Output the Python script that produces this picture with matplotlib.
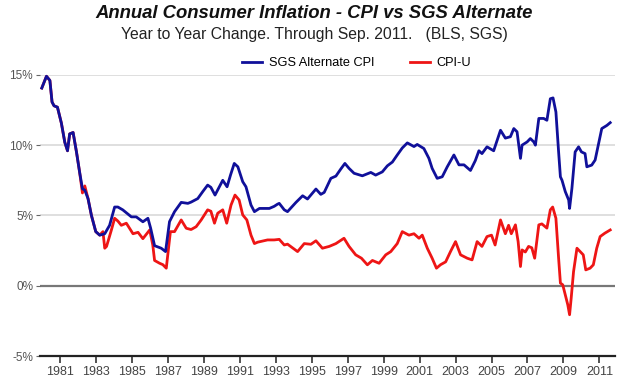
import matplotlib as mpl
mpl.use('Agg')
from matplotlib import pyplot as plt

plt.rcParams['font.family'] = ['Liberation Sans', 'DejaVu Sans']

# SGS alternate CPI, yearly change (%)
sgs_year = [1980.00, 1980.26, 1980.45, 1980.57, 1980.68, 1980.87, 1981.09, 1981.28, 1981.43, 1981.55,
            1981.74, 1981.93, 1982.10, 1982.26, 1982.39, 1982.57, 1982.76, 1983.00, 1983.22, 1983.50,
            1983.77, 1984.05, 1984.23, 1984.50, 1984.98, 1985.25, 1985.62, 1985.90, 1986.05, 1986.27,
            1986.64, 1986.88, 1987.10, 1987.38, 1987.75, 1988.12, 1988.30, 1988.67, 1988.95, 1989.22,
            1989.40, 1989.63, 1989.87, 1990.06, 1990.30, 1990.49, 1990.70, 1990.90, 1991.17, 1991.35,
            1991.63, 1991.82, 1992.10, 1992.65, 1992.92, 1993.10, 1993.20, 1993.48, 1993.66, 1994.13,
            1994.50, 1994.77, 1995.24, 1995.51, 1995.70, 1996.07, 1996.35, 1996.62, 1996.85, 1997.08,
            1997.36, 1997.82, 1998.29, 1998.56, 1998.93, 1999.21, 1999.49, 1999.76, 2000.04, 2000.32,
            2000.69, 2000.87, 2001.24, 2001.52, 2001.70, 2001.98, 2002.26, 2002.54, 2002.91, 2003.19,
            2003.47, 2003.83, 2004.10, 2004.30, 2004.47, 2004.75, 2005.12, 2005.50, 2005.77, 2006.05,
            2006.24, 2006.42, 2006.61, 2006.70, 2006.98, 2007.16, 2007.35, 2007.44, 2007.63, 2007.90,
            2008.08, 2008.27, 2008.42, 2008.58, 2008.73, 2008.83, 2008.92, 2009.10, 2009.29, 2009.34,
            2009.47, 2009.65, 2009.84, 2010.00, 2010.20, 2010.30, 2010.57, 2010.76, 2010.95, 2011.13,
            2011.41, 2011.60]
sgs_val = [14.06, 14.9, 14.6, 13.07, 12.8, 12.7, 11.56, 10.2, 9.6, 10.8,
           10.9, 9.5, 8.1, 6.9, 6.8, 6.2, 5.0, 3.85, 3.6, 3.7,
           4.3, 5.6, 5.6, 5.4, 4.9, 4.9, 4.55, 4.8, 4.1, 2.85,
           2.67, 2.43, 4.56, 5.27, 5.93, 5.86, 5.95, 6.2, 6.7, 7.16,
           7.0, 6.45, 7.04, 7.5, 7.04, 7.87, 8.7, 8.46, 7.4, 7.04,
           5.74, 5.27, 5.5, 5.5, 5.65, 5.8, 5.86, 5.4, 5.27, 5.93,
           6.4, 6.17, 6.88, 6.5, 6.64, 7.64, 7.8, 8.3, 8.7, 8.35,
           8.0, 7.82, 8.06, 7.87, 8.1, 8.53, 8.8, 9.3, 9.8, 10.16,
           9.9, 10.05, 9.76, 9.06, 8.35, 7.64, 7.75, 8.46, 9.3, 8.6,
           8.6, 8.2, 8.9, 9.6, 9.4, 9.88, 9.6, 11.06, 10.5, 10.6,
           11.18, 10.95, 9.06, 10.0, 10.23, 10.47, 10.23, 10.0, 11.9, 11.9,
           11.77, 13.3, 13.36, 12.36, 9.52, 7.75, 7.5, 6.7, 6.1, 5.5,
           6.93, 9.52, 9.88, 9.52, 9.4, 8.46, 8.58, 8.94, 10.1, 11.18,
           11.4, 11.6]

# CPI-U, yearly change (%)
cpi_year = [1980.00, 1980.26, 1980.45, 1980.57, 1980.68, 1980.87, 1981.09, 1981.28, 1981.43, 1981.55,
            1981.74, 1981.93, 1982.10, 1982.26, 1982.39, 1982.57, 1982.76, 1983.00, 1983.22, 1983.40,
            1983.50, 1983.60, 1983.87, 1984.05, 1984.23, 1984.42, 1984.70, 1985.07, 1985.35, 1985.62,
            1986.00, 1986.17, 1986.27, 1986.55, 1986.73, 1986.92, 1987.15, 1987.38, 1987.75, 1988.03,
            1988.30, 1988.58, 1988.86, 1989.22, 1989.40, 1989.60, 1989.78, 1990.06, 1990.28, 1990.52,
            1990.74, 1990.97, 1991.17, 1991.40, 1991.63, 1991.82, 1992.00, 1992.55, 1992.92, 1993.20,
            1993.48, 1993.66, 1994.22, 1994.59, 1994.96, 1995.24, 1995.60, 1995.98, 1996.35, 1996.80,
            1997.08, 1997.45, 1997.77, 1998.10, 1998.38, 1998.75, 1999.12, 1999.40, 1999.76, 2000.04,
            2000.41, 2000.69, 2000.97, 2001.15, 2001.43, 2001.70, 2001.94, 2002.17, 2002.45, 2002.72,
            2003.00, 2003.28, 2003.65, 2003.92, 2004.20, 2004.47, 2004.75, 2005.00, 2005.20, 2005.50,
            2005.77, 2005.95, 2006.10, 2006.33, 2006.48, 2006.61, 2006.70, 2006.88, 2007.06, 2007.24,
            2007.40, 2007.63, 2007.80, 2008.08, 2008.27, 2008.40, 2008.58, 2008.73, 2008.83, 2008.96,
            2009.10, 2009.24, 2009.34, 2009.43, 2009.56, 2009.75, 2009.93, 2010.10, 2010.24, 2010.48,
            2010.66, 2010.85, 2011.04, 2011.30, 2011.60]
cpi_val = [14.06, 14.9, 14.6, 13.07, 12.8, 12.7, 11.56, 10.2, 9.6, 10.8,
           10.9, 9.5, 8.1, 6.6, 7.1, 6.2, 5.0, 3.85, 3.6, 3.85,
           2.67, 2.8, 3.97, 4.8, 4.6, 4.3, 4.45, 3.7, 3.8, 3.35,
           3.97, 2.9, 1.8, 1.6, 1.5, 1.25, 3.85, 3.85, 4.68, 4.09,
           4.0, 4.2, 4.68, 5.4, 5.3, 4.45, 5.16, 5.4, 4.45, 5.74,
           6.45, 6.1, 5.04, 4.68, 3.6, 3.0, 3.1, 3.26, 3.26, 3.3,
           2.9, 2.96, 2.43, 3.0, 2.95, 3.2, 2.67, 2.8, 3.0, 3.38,
           2.8, 2.2, 1.96, 1.49, 1.8, 1.6, 2.2, 2.43, 3.0, 3.85,
           3.6, 3.7, 3.38, 3.6, 2.67, 1.96, 1.25, 1.5, 1.7, 2.43,
           3.14, 2.2, 1.96, 1.84, 3.14, 2.8, 3.5, 3.6, 2.9, 4.68,
           3.7, 4.3, 3.7, 4.33, 3.14, 1.37, 2.55, 2.4, 2.8, 2.7,
           1.96, 4.33, 4.4, 4.1, 5.4, 5.6, 4.8, 1.96, 0.19, 0.07,
           -0.64, -1.35, -2.06, -0.87, 1.0, 2.67, 2.43, 2.2, 1.13, 1.25,
           1.49, 2.67, 3.5, 3.74, 3.97]

year_ticks = list(range(1981, 2012, 2))
pct_ticks = [-5, 0, 5, 10, 15]

fig = plt.figure(figsize=(6.2, 3.78), dpi=100)
ax = fig.add_axes([0.0645, 0.058, 0.927, 0.744])

for v in [5, 10, 15]:
    ax.axhline(v, color='#dcdcdc', linewidth=1.3, zorder=0)
ax.axhline(0, color='#777777', linewidth=1.6, zorder=1)

ax.plot(cpi_year, cpi_val, color='#ee1515', linewidth=2.0, zorder=3, clip_on=False, label='CPI-U')
ax.plot(sgs_year, sgs_val, color='#10109a', linewidth=2.0, zorder=4, clip_on=False,
        label='SGS Alternate CPI')

ax.set_xlim(1979.9, 2011.85)
ax.set_ylim(-5, 15)

ax.set_xticks(year_ticks)
ax.set_xticklabels([str(y) for y in year_ticks])
ax.set_yticks(pct_ticks)
ax.set_yticklabels(['%d%%' % p for p in pct_ticks])

for s in ['top', 'right', 'left']:
    ax.spines[s].set_visible(False)
ax.spines['bottom'].set_color('#222222')
ax.spines['bottom'].set_linewidth(1.6)

ax.tick_params(axis='x', length=5, width=1.2, color='#333333', labelsize=9, labelcolor='#444444', pad=2)
ax.tick_params(axis='y', length=3, width=0.8, color='#666666', labelsize=8.5, labelcolor='#555555', pad=2)

fig.text(0.507, 0.963, 'Annual Consumer Inflation - CPI vs SGS Alternate', ha='center', va='center',
         fontsize=13.3, fontweight='bold', fontstyle='italic', color='#111111')
fig.text(0.507, 0.91, 'Year to Year Change. Through Sep. 2011.   (BLS, SGS)', ha='center', va='center',
         fontsize=11.3, color='#222222')

handles, labels = ax.get_legend_handles_labels()
fig.legend(handles[::-1], labels[::-1], loc='center', bbox_to_anchor=(0.575, 0.833), ncol=2,
           frameon=False, fontsize=9.2, handlelength=1.6, columnspacing=2.8, handletextpad=0.5)

plt.savefig('out.png', dpi=100)
plt.close()
